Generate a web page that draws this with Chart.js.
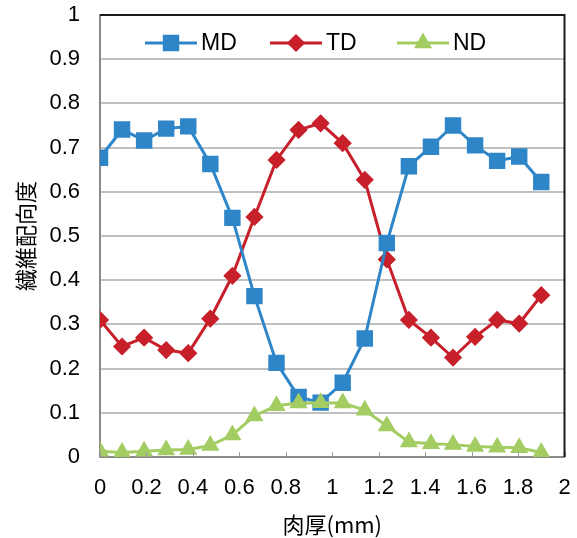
<!DOCTYPE html>
<html>
<head>
<meta charset="utf-8">
<script src="https://cdn.jsdelivr.net/npm/chart.js@4/dist/chart.umd.min.js"></script>
<style>
  html, body { margin: 0; padding: 0; background: #fff; }
  #wrap { width: 577px; height: 538px; }
</style>
</head>
<body>
<div id="wrap"><canvas id="chart" width="577" height="538"></canvas></div>
<script>
// 肉厚 (mm) positions of the measurements
const thickness = [0, 0.095, 0.19, 0.285, 0.38, 0.475, 0.57, 0.665, 0.76, 0.855, 0.95,
                   1.045, 1.14, 1.235, 1.33, 1.425, 1.52, 1.615, 1.71, 1.805, 1.9];

const mdValues = [0.677, 0.741, 0.716, 0.743, 0.748, 0.663, 0.541, 0.364, 0.213, 0.136, 0.123,
                  0.168, 0.268, 0.484, 0.658, 0.702, 0.750, 0.705, 0.670, 0.680, 0.622];
const tdValues = [0.310, 0.250, 0.270, 0.242, 0.235, 0.313, 0.410, 0.543, 0.672, 0.740, 0.755,
                  0.710, 0.627, 0.447, 0.310, 0.270, 0.225, 0.272, 0.310, 0.302, 0.366];
const ndValues = [0.013, 0.010, 0.013, 0.016, 0.017, 0.026, 0.050, 0.093, 0.116, 0.122, 0.123,
                  0.122, 0.106, 0.070, 0.034, 0.030, 0.028, 0.024, 0.022, 0.021, 0.010];

const xTicks = [0, 0.2, 0.4, 0.6, 0.8, 1, 1.2, 1.4, 1.6, 1.8, 2];
const yTicks = [0, 0.1, 0.2, 0.3, 0.4, 0.5, 0.6, 0.7, 0.8, 0.9, 1];

const seriesNames = ['MD', 'TD', 'ND'];
const numFont = '"Liberation Sans", Arial, sans-serif';
const jpFont = '"Noto Sans CJK JP", sans-serif';

function toPoints(vals) {
    return vals.map((v, i) => ({ x: thickness[i], y: v }));
}

function noPad(s) {
    s.paddingLeft = 0;
    s.paddingRight = 0;
    s.paddingTop = 0;
    s.paddingBottom = 0;
}

// frame (top/right black), inward x ticks and the in-plot legend
const extras = {
    id: 'extras',
    afterDatasetsDraw(chart) {
        const ctx = chart.ctx;
        const a = chart.chartArea;
        const xs = chart.scales.x;
        ctx.save();
        // small inward tick marks on the x axis
        ctx.strokeStyle = '#a0a0a0';
        ctx.lineWidth = 1;
        for (const t of xTicks) {
            const px = Math.round(xs.getPixelForValue(t)) + 0.5;
            ctx.beginPath();
            ctx.moveTo(px, a.bottom);
            ctx.lineTo(px, a.bottom - 5);
            ctx.stroke();
        }
        // top and right border
        ctx.strokeStyle = '#1a1a1a';
        ctx.lineWidth = 2;
        ctx.beginPath();
        ctx.moveTo(a.left, a.top);
        ctx.lineTo(a.right, a.top);
        ctx.lineTo(a.right, a.bottom);
        ctx.stroke();

        // legend: line + marker + text
        const ly = a.top + 28;
        const starts = [45, 170, 297];
        chart.data.datasets.forEach((ds, i) => {
            const x0 = a.left + starts[i];
            const x1 = x0 + 52;
            ctx.strokeStyle = ds.borderColor;
            ctx.lineWidth = 3;
            ctx.beginPath();
            ctx.moveTo(x0, ly);
            ctx.lineTo(x1, ly);
            ctx.stroke();
            Chart.helpers.drawPoint(ctx, {
                pointStyle: ds.pointStyle,
                radius: ds.pointRadius,
                borderWidth: 1
            }, (x0 + x1) / 2, ly);
            ctx.fillStyle = ds.pointBackgroundColor;
            ctx.fill();
            ctx.fillStyle = '#000';
            ctx.font = '23px ' + numFont;
            ctx.textBaseline = 'middle';
            ctx.textAlign = 'left';
            ctx.fillText(seriesNames[i], x1 + 4, ly + 1);
        });
        ctx.restore();
    }
};

new Chart(document.getElementById('chart'), {
    type: 'line',
    data: {
        datasets: [
            {
                label: seriesNames[0],
                data: toPoints(mdValues),
                borderColor: '#2e86c8',
                backgroundColor: '#2e86c8',
                pointBackgroundColor: '#2e86c8',
                pointBorderColor: '#2e86c8',
                pointStyle: 'rect',
                pointRadius: 9.5,
                borderWidth: 3,
                order: 1
            },
            {
                label: seriesNames[1],
                data: toPoints(tdValues),
                borderColor: '#c8202a',
                backgroundColor: '#c8202a',
                pointBackgroundColor: '#c8202a',
                pointBorderColor: '#c8202a',
                pointStyle: 'rectRot',
                pointRadius: 7,
                borderWidth: 3,
                order: 2
            },
            {
                label: seriesNames[2],
                data: toPoints(ndValues),
                borderColor: '#a3cd62',
                backgroundColor: '#a3cd62',
                pointBackgroundColor: '#a3cd62',
                pointBorderColor: '#a3cd62',
                pointStyle: 'triangle',
                pointRadius: 7.5,
                borderWidth: 3,
                order: 0
            }
        ]
    },
    options: {
        responsive: false,
        animation: false,
        events: [],
        layout: { padding: { top: 15, right: 8, left: 0, bottom: 0 } },
        plugins: {
            legend: { display: false },
            tooltip: { enabled: false }
        },
        scales: {
            x: {
                type: 'linear',
                min: 0,
                max: 2,
                afterBuildTicks: (s) => { s.ticks = xTicks.map(v => ({ value: v })); },
                afterFit: (s) => { s.height = 81; noPad(s); },
                grid: { display: false, drawTicks: false },
                border: { display: true, color: '#8a8a8a', width: 2 },
                ticks: {
                    color: '#000',
                    padding: 18,
                    maxRotation: 0,
                    callback: (v) => String(Math.round(v * 10) / 10),
                    font: { family: numFont, size: 22 }
                },
                title: {
                    display: true,
                    text: '肉厚(mm)',
                    color: '#000',
                    padding: { top: 4, bottom: 0 },
                    font: { family: jpFont, size: 22 }
                }
            },
            y: {
                min: 0,
                max: 1,
                afterBuildTicks: (s) => { s.ticks = yTicks.map(v => ({ value: v })); },
                afterFit: (s) => { s.width = 100; noPad(s); },
                grid: { color: '#c0c0c0', lineWidth: 2, drawTicks: false },
                border: { display: true, color: '#8a8a8a', width: 2 },
                ticks: {
                    color: '#000',
                    padding: 20,
                    callback: (v) => String(Math.round(v * 10) / 10),
                    font: { family: numFont, size: 22 }
                },
                title: {
                    display: true,
                    text: '繊維配向度',
                    color: '#000',
                    padding: { top: 12, bottom: 0 },
                    font: { family: jpFont, size: 22 }
                }
            }
        }
    },
    plugins: [extras]
});
</script>
</body>
</html>
